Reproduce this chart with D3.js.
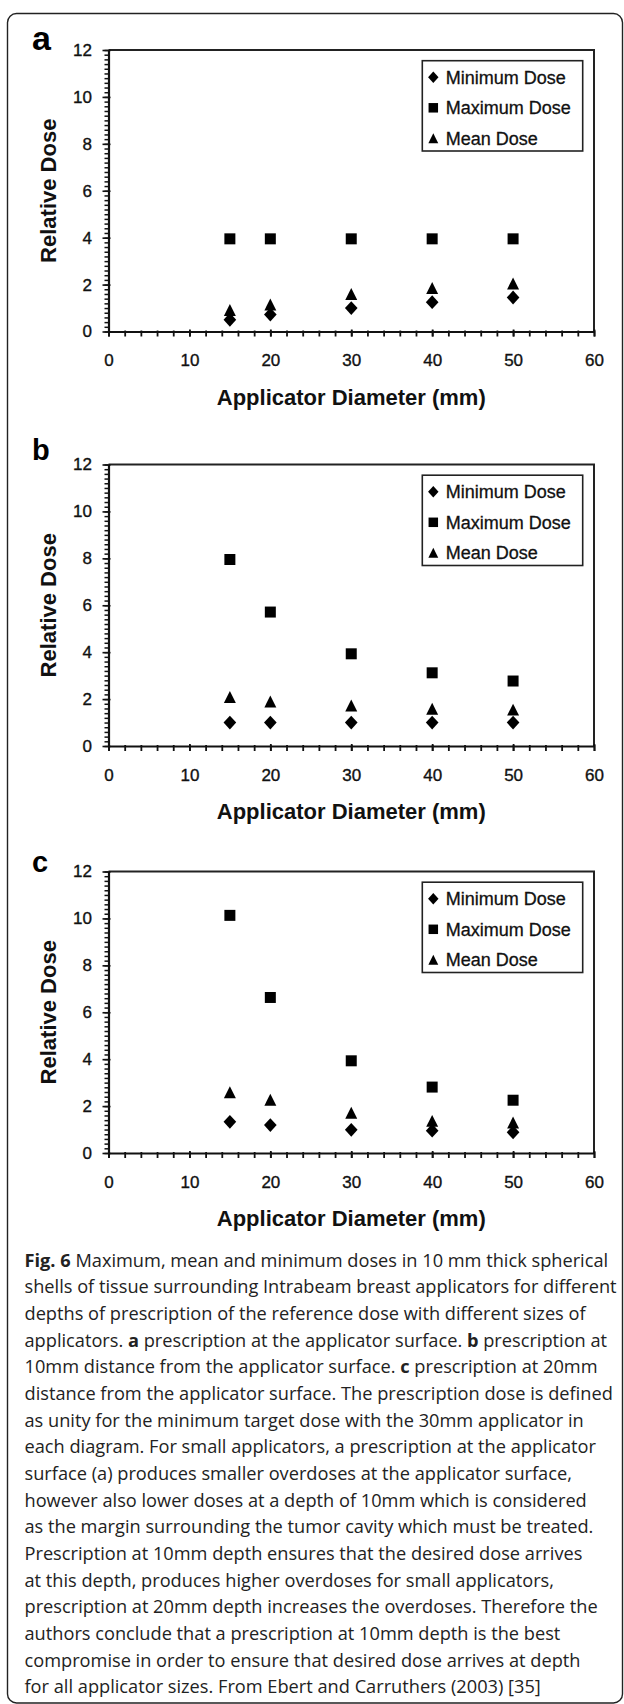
<!DOCTYPE html>
<html><head><meta charset="utf-8">
<script src="https://cdn.jsdelivr.net/npm/d3@7"></script>
<style>
html,body{margin:0;padding:0;background:#fff;}
svg{display:block;}
</style></head>
<body>
<script>
// ---- data ----
const diameters = [15, 20, 30, 40, 50];
const panelLabels = ["a", "b", "c"];
const seriesNames = ["Minimum Dose", "Maximum Dose", "Mean Dose"];
const minA = [0.5, 0.72, 1.0, 1.25, 1.45];
const maxA = [3.95, 3.95, 3.95, 3.95, 3.95];
const meanA = [0.92, 1.15, 1.6, 1.85, 2.05];
const minB = [1.0, 1.0, 1.0, 1.0, 1.0];
const maxB = [7.95, 5.71, 3.93, 3.12, 2.77];
const meanB = [2.09, 1.9, 1.73, 1.59, 1.55];
const minC = [1.33, 1.19, 0.99, 0.95, 0.88];
const maxC = [10.13, 6.63, 3.93, 2.81, 2.25];
const meanC = [2.59, 2.27, 1.72, 1.37, 1.3];
const xTicks = [0, 10, 20, 30, 40, 50, 60];
const yTicks = [0, 2, 4, 6, 8, 10, 12];
const xTitle = "Applicator Diameter (mm)";
const yTitle = "Relative Dose";
const captionLines = [
  [["Fig. 6", true], [" Maximum, mean and minimum doses in 10 mm thick spherical", false]],
  [["shells of tissue surrounding Intrabeam breast applicators for different", false]],
  [["depths of prescription of the reference dose with different sizes of", false]],
  [["applicators. ", false], ["a", true], [" prescription at the applicator surface. ", false], ["b", true], [" prescription at", false]],
  [["10mm distance from the applicator surface. ", false], ["c", true], [" prescription at 20mm", false]],
  [["distance from the applicator surface. The prescription dose is defined", false]],
  [["as unity for the minimum target dose with the 30mm applicator in", false]],
  [["each diagram. For small applicators, a prescription at the applicator", false]],
  [["surface (a) produces smaller overdoses at the applicator surface,", false]],
  [["however also lower doses at a depth of 10mm which is considered", false]],
  [["as the margin surrounding the tumor cavity which must be treated.", false]],
  [["Prescription at 10mm depth ensures that the desired dose arrives", false]],
  [["at this depth, produces higher overdoses for small applicators,", false]],
  [["prescription at 20mm depth increases the overdoses. Therefore the", false]],
  [["authors conclude that a prescription at 10mm depth is the best", false]],
  [["compromise in order to ensure that desired dose arrives at depth", false]],
  [["for all applicator sizes. From Ebert and Carruthers (2003) [35]", false]]
];

const panels = [
  {label: panelLabels[0], min: minA, max: maxA, mean: meanA, top: 50, labelSize: 34},
  {label: panelLabels[1], min: minB, max: maxB, mean: meanB, top: 464.5, labelSize: 29},
  {label: panelLabels[2], min: minC, max: maxC, mean: meanC, top: 871.5, labelSize: 29}
];

// ---- layout ----
const W = 624, H = 1704;
const plotLeft = 108.5, plotRight = 594, plotH = 281.5;
const AX = "'Liberation Sans', Arial, Helvetica, sans-serif";
const INK = "#111";

const svg = d3.select("body").append("svg").attr("width", W).attr("height", H);

svg.append("rect").attr("x", 7.5).attr("y", 13.5).attr("width", 615).attr("height", 1689.5)
  .attr("rx", 9).attr("fill", "none").attr("stroke", "#222").attr("stroke-width", 1.4);

function markerPath(type, s) {
  const p = d3.path();
  if (type === "diamond") {
    const hw = s * 0.55, hh = s * 0.6;
    p.moveTo(0, -hh); p.lineTo(hw, 0); p.lineTo(0, hh); p.lineTo(-hw, 0); p.closePath();
  } else if (type === "square") {
    const h = s * 0.5;
    p.rect(-h, -h, 2 * h, 2 * h);
  } else {
    const hw = s * 0.52, hh = s * 0.52;
    p.moveTo(0, -hh); p.lineTo(hw, hh); p.lineTo(-hw, hh); p.closePath();
  }
  return p.toString();
}
const markerTypes = ["diamond", "square", "triangle"];

panels.forEach(P => {
  const g = svg.append("g");
  const x = d3.scaleLinear().domain([0, 60]).range([plotLeft, plotRight]);
  const y = d3.scaleLinear().domain([0, 12]).range([P.top + plotH, P.top]);

  // frame (top + right)
  g.append("path")
    .attr("d", `M${x(0)},${y(12)}H${x(60)}V${y(0)}`)
    .attr("fill", "none").attr("stroke", "#222").attr("stroke-width", 2);

  // x axis minor ticks
  const xMinor = g.append("g").attr("transform", `translate(0,${y(0)})`)
    .call(d3.axisBottom(x).tickValues(d3.range(0, 61, 2)).tickSize(5).tickFormat(""));
  xMinor.select(".domain").remove();
  xMinor.selectAll("line").attr("stroke", INK).attr("stroke-width", 1.8).attr("y1", -1);
  const xAx = g.append("g").attr("transform", `translate(0,${y(0)})`)
    .call(d3.axisBottom(x).tickValues(xTicks).tickSize(5).tickPadding(17.5).tickSizeOuter(0));
  xAx.select(".domain").attr("stroke", INK).attr("stroke-width", 2.2);
  xAx.selectAll("line").attr("stroke", INK).attr("stroke-width", 1.8).attr("y1", -2);
  xAx.selectAll("text").attr("font-family", AX).attr("font-size", 17).attr("fill", "#111")
    .attr("stroke", "#111").attr("stroke-width", 0.35);

  // y axis
  const yMinor = g.append("g").attr("transform", `translate(${x(0)},0)`)
    .call(d3.axisLeft(y).tickValues(d3.range(0, 60.5, 1).map(v => v * 0.2)).tickSize(4).tickFormat(""));
  yMinor.select(".domain").remove();
  yMinor.selectAll("line").attr("stroke", INK).attr("stroke-width", 1.5);
  const yAx = g.append("g").attr("transform", `translate(${x(0)},0)`)
    .call(d3.axisLeft(y).tickValues(yTicks).tickSize(6).tickPadding(10.5).tickSizeOuter(0));
  yAx.select(".domain").attr("stroke", INK).attr("stroke-width", 2.2);
  yAx.selectAll("line").attr("stroke", INK).attr("stroke-width", 1.6).attr("x1", 2);
  yAx.selectAll("text").attr("font-family", AX).attr("font-size", 17).attr("fill", "#111")
    .attr("stroke", "#111").attr("stroke-width", 0.35);

  // titles
  g.append("text").attr("x", (x(0) + x(60)) / 2).attr("y", y(0) + 73)
    .attr("text-anchor", "middle").attr("font-family", AX).attr("font-weight", "bold")
    .attr("font-size", 22).attr("fill", "#111").text(xTitle);
  g.append("text").attr("transform", `translate(56,${(y(0) + y(12)) / 2}) rotate(-90)`)
    .attr("text-anchor", "middle").attr("font-family", AX).attr("font-weight", "bold")
    .attr("font-size", 22).attr("fill", "#111").text(yTitle);

  // panel label
  g.append("text").attr("x", 32).attr("y", P.top + (P.label === "b" ? -5 : 0))
    .attr("font-family", AX).attr("font-weight", "bold").attr("font-size", P.labelSize)
    .attr("fill", "#000").text(P.label);

  // data
  const series = [P.min, P.max, P.mean];
  series.forEach((vals, si) => {
    g.append("g").selectAll("path").data(vals).join("path")
      .attr("transform", (d, i) => `translate(${x(diameters[i])},${y(d)})`)
      .attr("d", markerPath(markerTypes[si], si === 1 ? 11 : 11.5))
      .attr("fill", "#000");
  });

  // legend
  const lx = x(60) - 171.7, ly = y(12) + 10.7;
  g.append("rect").attr("x", lx).attr("y", ly).attr("width", 160.4).attr("height", 90.3)
    .attr("fill", "#fff").attr("stroke", "#222").attr("stroke-width", 1.6);
  seriesNames.forEach((name, si) => {
    const cy = ly + 16.6 + si * 30.5;
    g.append("path").attr("transform", `translate(${lx + 11},${cy})`)
      .attr("d", markerPath(markerTypes[si], 9.5)).attr("fill", "#000");
    g.append("text").attr("x", lx + 23.4).attr("y", cy).attr("dy", "0.36em")
      .attr("font-family", AX).attr("font-size", 18).attr("fill", "#111")
      .attr("stroke", "#111").attr("stroke-width", 0.3).text(name);
  });
});

// caption
const CF = "'Open Sans', 'Noto Sans', sans-serif";
const cap = svg.append("g");
const lineEls = captionLines.map((parts, i) => {
  const t = cap.append("text").attr("x", 24.5).attr("y", 1266.5 + i * 26.67)
    .attr("font-family", CF).attr("font-size", 19).attr("fill", "#222");
  parts.forEach(([s, b]) => {
    t.append("tspan").attr("font-weight", b ? 700 : 400).text(s);
  });
  return t;
});
// fit caption font so the first line spans its measured width
const w0 = lineEls[0].node().getComputedTextLength();
const fs = 19 * 584 / w0;
lineEls.forEach(t => t.attr("font-size", fs));
</script>
</body></html>
